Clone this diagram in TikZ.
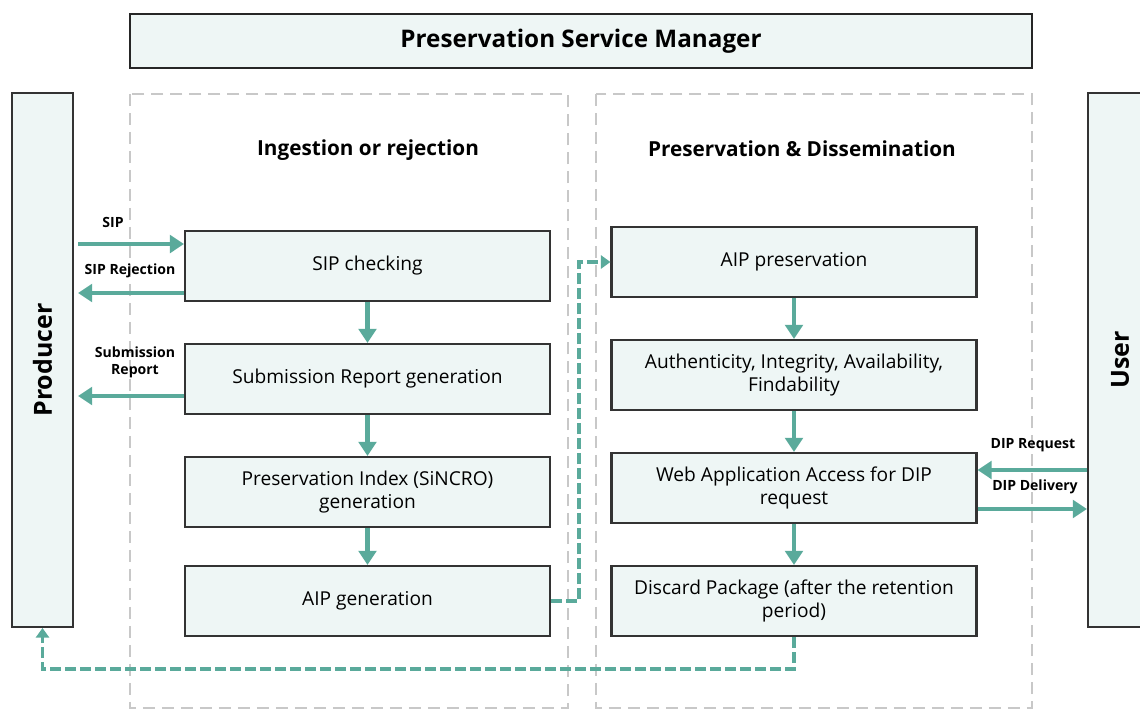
\documentclass[tikz,border=0pt]{standalone}
\usepackage{fontspec}
\setmainfont{Open Sans}
\usepackage{tikz}
\usetikzlibrary{arrows.meta}
\definecolor{flowteal}{RGB}{90,170,155}
\definecolor{boxfill}{RGB}{238,246,245}
\definecolor{zonegray}{RGB}{200,200,200}

\begin{document}
\begin{tikzpicture}[
    x=0.02cm, y=-0.02cm,
    procbox/.style={draw=black!80, line width=1.2pt, fill=boxfill, minimum width=7.3cm, minimum height=1.4cm, font=\fontsize{10.9}{13.5}\selectfont, align=center},
    actor/.style={draw=black!80, line width=1.2pt, fill=boxfill, minimum width=1.22cm, minimum height=10.68cm},
    zone/.style={draw=zonegray, line width=1.3pt, dash pattern=on 0.24cm off 0.14cm},
    heading/.style={font=\bfseries\fontsize{11.8}{14}\selectfont},
    tag/.style={font=\bfseries\fontsize{8}{9.5}\selectfont, align=center},
    flow/.style={-{Triangle[length=8pt,width=10pt]}, line width=2.6pt, flowteal},
    feedback/.style={-{Triangle[length=5.5pt,width=7.5pt]}, line width=1.8pt, flowteal, dash pattern=on 0.22cm off 0.08cm}
]
\useasboundingbox (0,0) rectangle (1140,711);

% dashed zones
\draw[zone] (130,94) rectangle (568,708);
\draw[zone] (596,94) rectangle (1032,708);

\node[draw=black!85, line width=1.5pt, fill=boxfill, minimum width=18.04cm, minimum height=1.08cm, font=\bfseries\fontsize{13.8}{16}\selectfont] (psm) at (581,41) {Preservation Service Manager};

\node[actor] (producer) at (42.5,360) {};
\node[rotate=90, font=\bfseries\fontsize{14.2}{16}\selectfont] (producerlbl) at (producer.center) {Producer};
\node[actor] (user) at (1118.5,360) {};
\node[rotate=90, font=\bfseries\fontsize{14.2}{16}\selectfont] (userlbl) at (1120,360) {User};

\node[heading] (ingest) at (368,150) {Ingestion or rejection};
\node[heading] (presdiss) at (802,149) {Preservation \& Dissemination};

\node[procbox] (sipcheck) at (367.5,266) {SIP checking};
\node[procbox] (subreport) at (367.5,379) {Submission Report generation};
\node[procbox] (presindex) at (367.5,492) {Preservation Index (SiNCRO)\\generation};
\node[procbox] (aipgen) at (367.5,601) {AIP generation};

\node[procbox] (aippres) at (794,262) {AIP preservation};
\node[procbox] (authint) at (794,375) {Authenticity, Integrity, Availability,\\Findability};
\node[procbox] (webaccess) at (794,488) {Web Application Access for DIP\\request};
\node[procbox] (discard) at (794,601) {Discard Package (after the retention\\period)};

\draw[flow] (sipcheck) -- (subreport);
\draw[flow] (subreport) -- (presindex);
\draw[flow] (presindex) -- (aipgen);
\draw[flow] (aippres) -- (authint);
\draw[flow] (authint) -- (webaccess);
\draw[flow] (webaccess) -- (discard);

% producer side
\draw[flow, shorten <=0.08cm] (producer.east |- 0,244) -- (sipcheck.west |- 0,244);
\draw[flow, shorten >=0.08cm] (sipcheck.west |- 0,293) -- (producer.east |- 0,293);
\draw[flow, shorten >=0.08cm] (subreport.west |- 0,396) -- (producer.east |- 0,396);
\node[tag] (siplbl) at (113,222) {SIP};
\node[tag] (rejlbl) at (130,271) {SIP Rejection};
\node[tag] (replbl) at (135,362) {Submission\\Report};

% user side
\draw[flow] (user.west |- 0,470) -- (webaccess.east |- 0,470);
\draw[flow] (webaccess.east |- 0,509) -- (user.west |- 0,509);
\node[tag] (reqlbl) at (1033,445) {DIP Request};
\node[tag] (dellbl) at (1035,487) {DIP Delivery};

% dashed links
\draw[feedback] (aipgen.east) -- ++(28,0) |- (aippres.west);
\draw[feedback] (discard.south) -- ++(0,32) -| (producer.south);
\end{tikzpicture}
\end{document}
